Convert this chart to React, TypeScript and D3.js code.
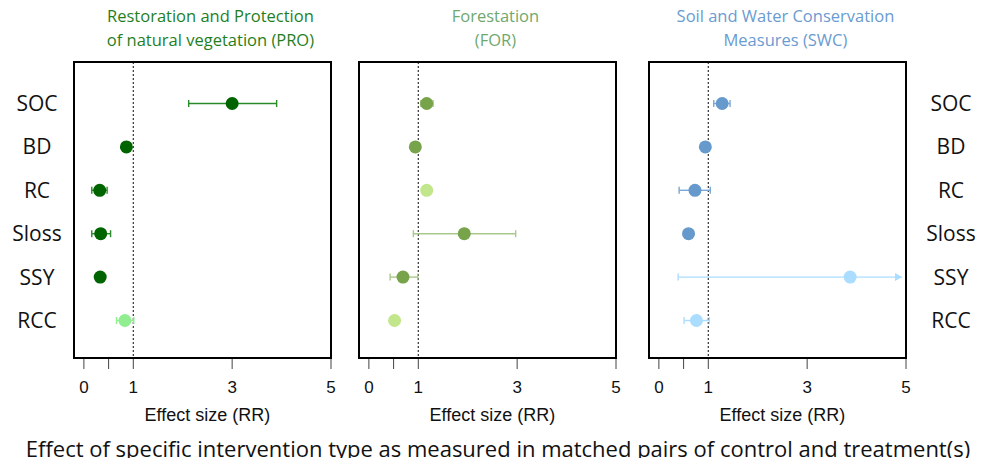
import React, { useRef, useEffect } from "react";
import * as d3 from "d3";

// outcome categories (rows)
const categories = ["SOC", "BD", "RC", "Sloss", "SSY", "RCC"];

// Restoration and Protection of natural vegetation (PRO)
const proMean = [3.0, 0.86, 0.32, 0.34, 0.33, 0.83];
const proLow = [2.12, 0.84, 0.16, 0.16, 0.31, 0.66];
const proHigh = [3.9, 0.88, 0.47, 0.54, 0.35, 1.01];
const proPale = [false, false, false, false, false, true];

// Forestation (FOR)
const forMean = [1.17, 0.94, 1.17, 1.93, 0.69, 0.52];
const forLow = [1.05, 0.92, 1.15, 0.9, 0.43, 0.5];
const forHigh = [1.3, 0.96, 1.19, 2.97, 0.99, 0.54];
const forPale = [false, false, true, false, false, true];

// Soil and Water Conservation Measures (SWC)
const swcMean = [1.28, 0.94, 0.73, 0.6, 3.87, 0.76];
const swcLow = [1.11, 0.92, 0.41, 0.58, 0.39, 0.51];
const swcHigh = [1.44, 0.96, 1.04, 0.62, 6.5, 1.02];
const swcPale = [false, false, false, false, true, true];

const tickValues = [0, 0.5, 1, 3, 5];
const tickLabels = ["0", "", "1", "3", "5"];

const W = 996;
const H = 466;

const panels = [
  {
    title: ["Restoration and Protection", "of natural vegetation (PRO)"],
    titleColor: "#1f7f1f",
    mean: proMean, low: proLow, high: proHigh, pale: proPale,
    dot: "#006400", err: "#2a8a2a", paleDot: "#90ee90", paleErr: "#90ee90",
    left: 74,
  },
  {
    title: ["Forestation", "(FOR)"],
    titleColor: "#6fa86f",
    mean: forMean, low: forLow, high: forHigh, pale: forPale,
    dot: "#77a44a", err: "#a9c98a", paleDot: "#c2e68c", paleErr: "#c2e68c",
    left: 359,
  },
  {
    title: ["Soil and Water Conservation", "Measures (SWC)"],
    titleColor: "#6a9bd1",
    mean: swcMean, low: swcLow, high: swcHigh, pale: swcPale,
    dot: "#6699cc", err: "#7aa7d6", paleDot: "#aaddff", paleErr: "#aaddff",
    left: 649,
  },
];

const Chart = () => {
  const ref = useRef<SVGSVGElement>(null);

  useEffect(() => {
    const svg = d3.select(ref.current);
    svg.selectAll("*").remove();

    const top = 62;
    const bottom = 358;
    const pw = 257;
    const labelFont = "'Open Sans', Lato, sans-serif";
    const axisFont = "'Liberation Sans', Arial, sans-serif";

    const y = d3.scalePoint<string>().domain(categories).range([103.5, 320.5]);

    panels.forEach((p) => {
      const x = d3.scaleLinear().domain([-0.2, 5]).range([p.left, p.left + pw]);
      const g = svg.append("g");

      // reference line at RR = 1
      g.append("line")
        .attr("x1", x(1)).attr("x2", x(1))
        .attr("y1", top).attr("y2", bottom)
        .attr("stroke", "#333").attr("stroke-width", 1.2)
        .attr("stroke-dasharray", "2,2");

      // error bars
      categories.forEach((c, i) => {
        const col = p.pale[i] ? p.paleErr : p.err;
        const lo = x(p.low[i]);
        const over = p.high[i] > 5;
        const hi = over ? x(5) - 4 : x(p.high[i]);
        const cy = y(c) as number;
        g.append("line")
          .attr("x1", lo).attr("x2", hi).attr("y1", cy).attr("y2", cy)
          .attr("stroke", col).attr("stroke-width", 1.4);
        g.append("line")
          .attr("x1", lo).attr("x2", lo).attr("y1", cy - 3.5).attr("y2", cy + 3.5)
          .attr("stroke", col).attr("stroke-width", 1.4);
        if (over) {
          g.append("path")
            .attr("d", `M${hi},${cy} l-7,-4 l0,8 Z`)
            .attr("fill", col);
        } else {
          g.append("line")
            .attr("x1", hi).attr("x2", hi).attr("y1", cy - 3.5).attr("y2", cy + 3.5)
            .attr("stroke", col).attr("stroke-width", 1.4);
        }
      });

      // points
      g.selectAll("circle.pt")
        .data(categories)
        .enter()
        .append("circle")
        .attr("class", "pt")
        .attr("cx", (d, i) => x(p.mean[i]))
        .attr("cy", (d) => y(d) as number)
        .attr("r", 6.5)
        .attr("fill", (d, i) => (p.pale[i] ? p.paleDot : p.dot));

      // frame
      g.append("rect")
        .attr("x", p.left).attr("y", top)
        .attr("width", pw).attr("height", bottom - top)
        .attr("fill", "none").attr("stroke", "#000").attr("stroke-width", 2);

      // axis ticks
      g.selectAll("line.tick")
        .data(tickValues)
        .enter()
        .append("line")
        .attr("class", "tick")
        .attr("x1", (d) => x(d)).attr("x2", (d) => x(d))
        .attr("y1", bottom + 1).attr("y2", bottom + 11)
        .attr("stroke", "#444").attr("stroke-width", 1);

      g.selectAll("text.tl")
        .data(tickValues)
        .enter()
        .append("text")
        .attr("class", "tl")
        .attr("x", (d) => x(d))
        .attr("y", 393)
        .attr("text-anchor", "middle")
        .attr("font-family", axisFont)
        .attr("font-size", 17)
        .attr("fill", "#111")
        .text((d, i) => tickLabels[i]);

      const mid = (x(0) + x(5)) / 2;
      g.append("text")
        .attr("x", mid)
        .attr("y", 421)
        .attr("text-anchor", "middle")
        .attr("font-family", axisFont)
        .attr("font-size", 18)
        .attr("fill", "#111")
        .text("Effect size (RR)");

      // panel title
      p.title.forEach((t, k) => {
        g.append("text")
          .attr("x", mid + 3)
          .attr("y", 22 + k * 24)
          .attr("text-anchor", "middle")
          .attr("font-family", labelFont)
          .attr("font-size", 16.5)
          .attr("fill", p.titleColor)
          .text(t);
      });
    });

    // row labels left and right
    [37, 951].forEach((lx) => {
      svg.selectAll(null)
        .data(categories)
        .enter()
        .append("text")
        .attr("x", lx)
        .attr("y", (d) => y(d) as number)
        .attr("dy", "0.36em")
        .attr("text-anchor", "middle")
        .attr("font-family", labelFont)
        .attr("font-size", 21)
        .attr("fill", "#111")
        .text((d) => d);
    });

    // caption
    svg.append("text")
      .attr("x", 498)
      .attr("y", 457)
      .attr("text-anchor", "middle")
      .attr("font-family", labelFont)
      .attr("font-size", 22)
      .attr("fill", "#111")
      .text("Effect of specific intervention type as measured in matched pairs of control and treatment(s)");
  }, []);

  return <svg ref={ref} width={W} height={H} style={{ display: "block" }} />;
};

export default function App() {
  return (
    <div style={{ margin: -8 }}>
      <Chart />
    </div>
  );
}
